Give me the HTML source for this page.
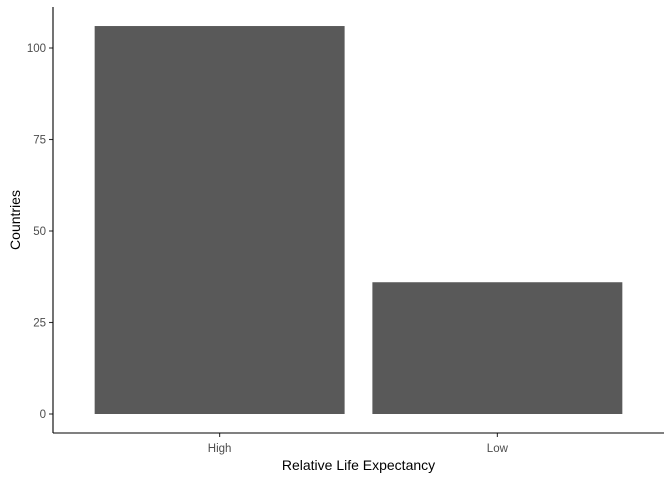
<!DOCTYPE html>
<html><head><meta charset="utf-8"><style>
body{margin:0;background:#fff}
svg text{font-family:"Liberation Sans",sans-serif}
</style></head><body>
<svg id="chart" width="672" height="480" xmlns="http://www.w3.org/2000/svg">
<rect width="672" height="480" fill="#fff"/>
<g id="bars"></g>
<g id="yaxis"></g>
<g id="xaxis"></g>
<line x1="53" y1="7" x2="53" y2="433" stroke="#000" stroke-width="1.1"/>
<line x1="53" y1="433" x2="664" y2="433" stroke="#000" stroke-width="1.1"/>
<text x="358.5" y="470" font-size="14" text-anchor="middle">Relative Life Expectancy</text>
<text transform="translate(20,220) rotate(-90)" font-size="14" text-anchor="middle">Countries</text>
</svg>
<script>
const categories=["High","Low"];
const values=[106,36];
const yTicks=[0,25,50,75,100];
const ns="http://www.w3.org/2000/svg";
const x0=53,x1=664,yZero=414,pxPerUnit=3.66;
const unit=(x1-x0)/(categories.length-1+1.2);
const xc=i=>x0+(0.6+i)*unit;
const y=v=>yZero-v*pxPerUnit;
const bars=document.getElementById('bars'),ya=document.getElementById('yaxis'),xa=document.getElementById('xaxis');
function mk(t,a){const e=document.createElementNS(ns,t);for(const k in a)e.setAttribute(k,a[k]);return e;}
categories.forEach((c,i)=>{
 const w=0.9*unit;
 const r=mk('rect',{x:xc(i)-w/2,y:y(values[i]),width:w,height:yZero-y(values[i]),fill:'#595959'});
 
 
 bars.appendChild(r);
 const t=mk('line',{x1:xc(i),x2:xc(i),y1:433,y2:437,stroke:'#333','stroke-width':1.1});
 
 
 xa.appendChild(t);
 const l=mk('text',{x:xc(i),y:452,'font-size':11.5,'text-anchor':'middle',fill:'#4d4d4d'});
 
 
 l.textContent=c;xa.appendChild(l);
});
yTicks.forEach(v=>{
 const t=mk('line',{x1:49,x2:53,y1:y(v),y2:y(v),stroke:'#333','stroke-width':1.1});
 
 
 ya.appendChild(t);
 const l=mk('text',{x:46,y:y(v)+4,'font-size':11.5,'text-anchor':'end',fill:'#4d4d4d'});
 
 
 l.textContent=v;ya.appendChild(l);
});
</script>
</body></html>
